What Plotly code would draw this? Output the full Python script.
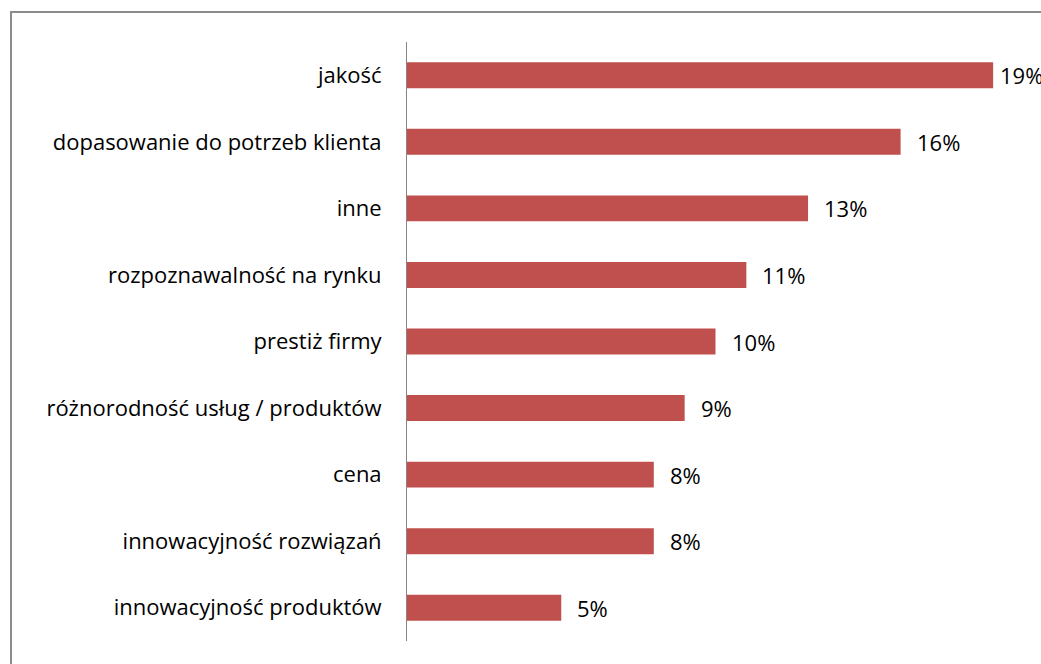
import plotly.graph_objects as go

categories = [
    "jakość",
    "dopasowanie do potrzeb klienta",
    "inne",
    "rozpoznawalność na rynku",
    "prestiż firmy",
    "różnorodność usług / produktów",
    "cena",
    "innowacyjność rozwiązań",
    "innowacyjność produktów",
]
values = [19, 16, 13, 11, 10, 9, 8, 8, 5]

W, H = 1041, 664
left, right, top, bottom = 407, 17, 42, 23
plot_w = W - left - right
plot_h = H - top - bottom
x_max = 20
FONT = "Open Sans"
SIZE = 22

fig = go.Figure()
fig.add_trace(go.Bar(
    y=categories,
    x=values,
    orientation="h",
    marker=dict(color="#C0504D", line=dict(width=0)),
    width=0.39,
    hoverinfo="skip",
))

# value labels to the right of each bar; the longest one is pulled in toward the edge
for cat, v in zip(categories, values):
    fig.add_annotation(
        x=v, y=cat, text=f"{v}%", showarrow=False,
        xanchor="left", yanchor="middle",
        xshift=5 if v == max(values) else 14,
        font=dict(family=FONT, size=SIZE, color="#000000"),
    )

def px_x(p):
    return (p - left) / plot_w

def px_y(p):
    return (H - bottom - p) / plot_h

# chart frame
fig.add_shape(
    type="rect", xref="paper", yref="paper",
    x0=px_x(11), x1=px_x(W + 20), y0=px_y(H + 20), y1=px_y(12),
    line=dict(color="#8c8c8c", width=2), fillcolor="rgba(0,0,0,0)",
    layer="below",
)

fig.update_layout(
    width=W, height=H,
    margin=dict(l=left, r=right, t=top, b=bottom, autoexpand=False),
    paper_bgcolor="white", plot_bgcolor="white",
    showlegend=False,
    font=dict(family=FONT, size=SIZE, color="#000000"),
    xaxis=dict(range=[0, x_max], visible=False, fixedrange=True),
    yaxis=dict(
        categoryorder="array", categoryarray=categories[::-1],
        autorange=False, range=[-0.5, len(categories) - 0.5],
        showline=True, linecolor="#868686", linewidth=1,
        ticks="", showgrid=False, zeroline=False,
        ticklabelstandoff=20,
        tickfont=dict(family=FONT, size=SIZE, color="#000000"),
    ),
)

fig.write_html("out.html")
